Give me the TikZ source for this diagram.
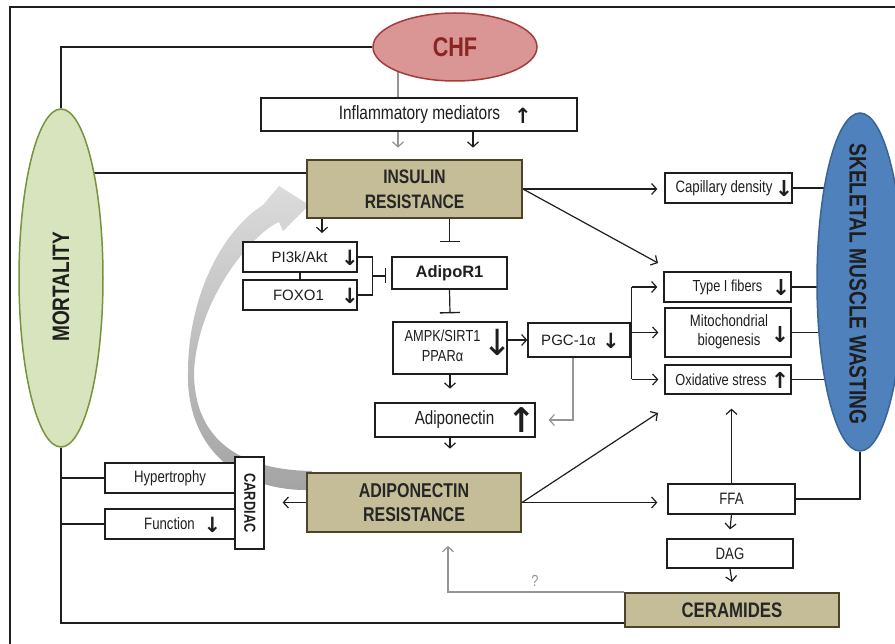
\documentclass[tikz,border=0pt]{standalone}
\usepackage{fontspec}
\setmainfont{Liberation Sans}
\newfontfamily\nar{Liberation Sans}[FakeStretch=0.8]
\newfontfamily\wid{Liberation Sans}
\newfontfamily\arf{DejaVu Sans}
\usetikzlibrary{arrows.meta,shapes.geometric,calc,backgrounds}
\newcommand\fs[2]{\fontsize{#1}{#2}\selectfont}
\definecolor{tanfill}{HTML}{C4BD97}
\definecolor{tandraw}{HTML}{4A4528}
\definecolor{chffill}{HTML}{D99694}
\definecolor{chfdraw}{HTML}{A33C3A}
\definecolor{chftext}{HTML}{8A2523}
\definecolor{mortfill}{HTML}{D7E4BD}
\definecolor{mortdraw}{HTML}{77933C}
\definecolor{skelfill}{HTML}{4F81BD}
\definecolor{skeldraw}{HTML}{3A6496}
\definecolor{gline}{HTML}{959595}
\definecolor{ink}{HTML}{1E1E1E}
\tikzset{
  wbox/.style={draw=ink, line width=1.3pt, fill=white, inner sep=0pt, text=ink, font=\nar\fs{16.5}{19}},
  tanbox/.style={draw=tandraw, line width=2pt, fill=tanfill, inner sep=0pt, align=center, text=black!85, font=\nar\bfseries\fs{19.5}{25}},
  txt/.style={inner sep=0pt, text=ink, align=center, font=\nar\fs{16.5}{19}},
  arw/.style={inner sep=0pt, text=ink, font=\arf\bfseries\fs{21}{21}},
  con/.style={line width=1.2pt, draw=ink},
  arr/.style={con, -{Straight Barb[length=5pt,width=11pt]}},
  inh/.style={con, -{Bar[width=20pt,line width=1.4pt]}},
  inhs/.style={con, -{Bar[width=15pt,line width=1.4pt]}},
  gl/.style={line width=1.2pt, draw=gline},
  garr/.style={gl, -{Straight Barb[length=5pt,width=11pt]}},
}
\begin{document}
\begin{tikzpicture}[x=1pt,y=-1pt]
\useasboundingbox (0,0) rectangle (895,644);
% frame
\draw[line width=1.6pt, ink] (10,644) -- (10,7) -- (895,7);
% ellipses
\node[ellipse, fill=chffill, draw=chfdraw, line width=1.5pt, inner sep=0pt, minimum width=164, minimum height=68, text=chftext, font=\nar\bfseries\fs{27}{30}] (chf) at (455,47) {CHF};
\node[ellipse, fill=mortfill, draw=mortdraw, line width=1.5pt, inner sep=0pt, minimum width=84, minimum height=338] (mort) at (61,278) {};
\node[rotate=90, inner sep=0pt, text=ink, font=\nar\bfseries\fs{23.8}{26}] (mortt) at (61,287) {MORTALITY};
\node[ellipse, fill=skelfill, draw=skeldraw, line width=1.5pt, inner sep=0pt, minimum width=86, minimum height=338] (skel) at (860,282) {};
\node[rotate=-90, inner sep=0pt, text=ink, font=\nar\bfseries\fs{24}{26}] (skelt) at (858,284) {SKELETAL MUSCLE WASTING};
% boxes
\node[wbox, minimum width=316, minimum height=33] (infl) at (419,114.5) {};
\node[txt, font=\nar\fs{19.3}{22}] (inflt) at (419.5,115) {Inflammatory mediators};
\node[arw] (infla) at (523,116) {↑};
\node[tanbox, minimum width=215, minimum height=58] (IR) at (414.5,189) {INSULIN\\RESISTANCE};
\node[wbox, minimum width=114, minimum height=30] (pi3k) at (300,257) {};
\node[txt, font=\wid\fs{15}{17}] (pi3kt) at (299.5,257) {PI3k/Akt};
\node[arw] (pi3ka) at (350,258) {↓};
\node[wbox, minimum width=114, minimum height=30] (foxo) at (300,295) {};
\node[txt, font=\wid\fs{15}{17}] (foxot) at (298.5,295) {FOXO1};
\node[arw] (foxoa) at (350,296) {↓};
\node[wbox, minimum width=115, minimum height=32, font=\wid\bfseries\fs{16.5}{19}] (adipor) at (449.5,273) {AdipoR1};
\node[wbox, minimum width=114, minimum height=52] (ampk) at (450,348) {};
\node[txt, font=\nar\fs{16}{20}] (ampkt) at (442.5,346) {AMPK/SIRT1\\PPARα};
\node[arw, font=\arf\fs{36}{36}] (ampka) at (498,342) {↓};
\node[wbox, minimum width=102, minimum height=34] (pgc) at (579,340) {};
\node[txt, font=\wid\fs{15}{17}] (pgct) at (568.5,340) {PGC-1α};
\node[arw] (pgca) at (611,341) {↓};
\node[wbox, minimum width=160, minimum height=34] (adipo) at (455,420) {};
\node[txt, font=\nar\fs{19}{22}] (adipot) at (454.5,420) {Adiponectin};
\node[arw, font=\arf\bfseries\fs{34}{34}] (adipoa) at (522,420) {↑};
\node[tanbox, minimum width=214, minimum height=59, font=\nar\bfseries\fs{20}{24}] (AR) at (414,502.5) {ADIPONECTIN\\RESISTANCE};
\node[wbox, minimum width=29, minimum height=92] (cardiac) at (249.5,503) {};
\node[rotate=-90, inner sep=0pt, text=ink, font=\nar\bfseries\fs{16}{18}] (cardt) at (250,503) {CARDIAC};
\node[wbox, minimum width=130, minimum height=30] (hyper) at (170,478) {Hypertrophy};
\node[wbox, minimum width=130, minimum height=30] (func) at (170,524) {};
\node[txt] (funct) at (169.5,524) {Function};
\node[arw] (funca) at (212.5,525) {↓};
\node[wbox, minimum width=127, minimum height=30] (capd) at (728.5,188) {};
\node[txt, font=\nar\fs{16.5}{19}] (capdt) at (724,188) {Capillary density};
\node[arw, font=\arf\bfseries\fs{22}{22}] (capda) at (784,189) {↓};
\node[wbox, minimum width=127, minimum height=30] (type1) at (727.5,287) {};
\node[txt, font=\nar\fs{16}{19}] (type1t) at (727.5,287) {Type I fibers};
\node[arw, font=\arf\bfseries\fs{22}{22}] (type1a) at (781,288) {↓};
\node[wbox, minimum width=126, minimum height=49] (mito) at (728,332.5) {};
\node[txt, font=\nar\fs{16.4}{19}] (mitot) at (729,332) {Mitochondrial\\biogenesis};
\node[arw, font=\arf\bfseries\fs{22}{22}] (mitoa) at (780,335) {↓};
\node[wbox, minimum width=126, minimum height=29] (oxid) at (728,379.5) {};
\node[txt, font=\nar\fs{16}{19}] (oxidt) at (721,380) {Oxidative stress};
\node[arw, font=\arf\bfseries\fs{22}{22}] (oxida) at (780,380) {↑};
\node[wbox, minimum width=127, minimum height=30] (ffa) at (731.5,499) {FFA};
\node[wbox, minimum width=126, minimum height=29] (dag) at (730,553.5) {DAG};
\node[tanbox, minimum width=214, minimum height=34, font=\nar\bfseries\fs{21}{24}] (cer) at (732,610) {CERAMIDES};
\node[txt, text=gline, font=\nar\fs{16}{18}] (qm) at (535,581) {?};
\coordinate (gx) at (398,0);
\coordinate (bx) at (473,0);
\coordinate (br) at ($(pi3k.east)!0.5!(foxo.east)+(15,0)$);
\coordinate (pb) at ($(pgc.east)+(1,0)$);
\coordinate (d1) at (658,263);
\coordinate (d2) at (658,413);
\begin{scope}[on background layer]
\fill[white] (0,0) rectangle (895,644);
% big grey curved arrow
\shade[top color=black!14, bottom color=black!36]
  (312,490) .. controls (230,492) and (186,440) .. (188,372)
  .. controls (188,300) and (220,232) .. (263,205)
  -- (279,186) -- (309,205) -- (283,231) -- (279,222)
  .. controls (255,232) and (198,295) .. (194,372)
  .. controls (194,440) and (240,470) .. (312,471) -- cycle;
% connectors
\draw[con] (chf.west) -| (mort.north);
\draw[gl] (chf.center -| gx) -- (infl.north -| gx);
\draw[garr] (infl.south -| gx) -- ++(0,16);
\draw[arr] (infl.south -| bx) -- ++(0,16);
\draw[con] ($(IR.west)+(0,-16)$) -- ($(IR.west -| mort.center)+(0,-16)$);
\draw[arr] ($(IR.south)+(-92.5,0)$) -- ++(0,14);
\draw[inh] (IR.south -| adipor.north) -- ($(adipor.north)+(0,-14)$);
\draw[con] (pi3k.east) -- ++(15,0) |- (foxo.east);
\draw[con] (pi3k.south) -- (foxo.north);
\draw[inhs] (br) -- ($(br -| adipor.west)+(-5,0)$);
\draw[inh] (adipor.south) -- ($(ampk.north)+(0,-8)$);
\draw[arr] (ampk.east |- pgc.west) -- (pgc.west);
\draw[con] (pb |- type1.west) -- (pb |- oxid.west);
\draw[arr] (pb |- type1.west) -- ($(type1.west)+(-6,0)$);
\draw[arr] (pb |- mito.west) -- ($(mito.west)+(-6,0)$);
\draw[arr] (pb |- oxid.west) -- ($(oxid.west)+(-6,0)$);
\draw[garr] ($(pgc.south)+(-6,0)$) |- ($(adipo.east)+(13,0)$);
\draw[arr] (ampk.south) -- ++(0,14);
\draw[arr] (adipo.south -| ampk.south) -- ++(0,11);
\draw[arr] (IR.east) -- ($(IR.east -| capd.west)+(-7,0)$);
\draw[arr] (IR.east) -- (d1);
\draw[con] (capd.east) -- (capd.east -| skel.center);
\draw[con] (type1.east) -- (type1.east -| skel.center);
\draw[con] (mito.east) -- (mito.east -| skel.center);
\draw[con] (oxid.east) -- (oxid.east -| skel.center);
\draw[arr] (AR.east) -- ($(AR.east -| ffa.west)+(-10,0)$);
\draw[arr] (AR.east) -- (d2);
\draw[arr] (ffa.north) -- ($(ffa.north |- oxid.south)+(0,14)$);
\draw[con] (ffa.east) -| (skel.south);
\draw[arr] (ffa.south) -- ($(dag.north)+(0,-9)$);
\draw[arr] (dag.south) -- ($(cer.north)+(0,-10)$);
\draw[garr] (cer.north west) -| ($(AR.south)+(34,13)$);
\draw[con] (mort.south) |- ($(cer.west)+(0,13)$);
\draw[con] (mort.south |- hyper.west) -- (hyper.west);
\draw[con] (mort.south |- func.west) -- (func.west);
\draw[arr] (AR.west) -- ($(AR.west -| cardiac.east)+(18,0)$);
\end{scope}
\end{tikzpicture}
\end{document}
